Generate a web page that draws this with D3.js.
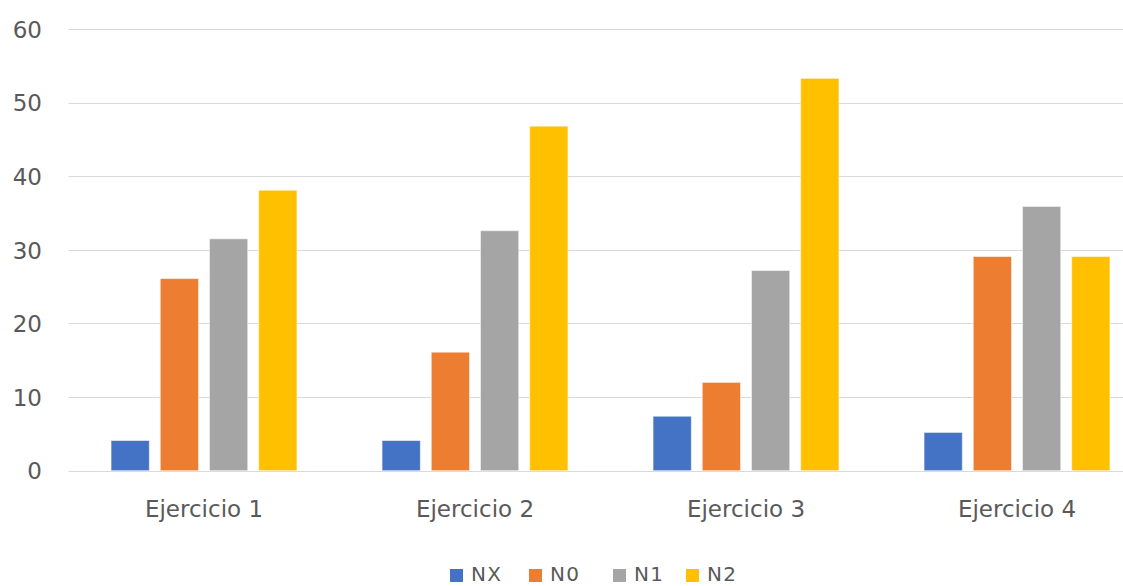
<!DOCTYPE html>
<html>
<head>
<meta charset="utf-8">
<script src="https://cdn.jsdelivr.net/npm/d3@7"></script>
<style>
  html, body { margin: 0; padding: 0; background: #fff; }
  svg { display: block; font-family: "DejaVu Sans", "Open Sans", sans-serif; }
</style>
</head>
<body>
<svg id="chart" width="1123" height="586"></svg>
<script>
// Categories, series and values
const categories = ["Ejercicio 1", "Ejercicio 2", "Ejercicio 3", "Ejercicio 4"];
const seriesNames = ["NX", "N0", "N1", "N2"];
const seriesColors = ["#4472C4", "#ED7D31", "#A5A5A5", "#FFC000"];
const valuesNX = [4.1, 4.1, 7.4, 5.2];
const valuesN0 = [26.1, 16.1, 12.0, 29.1];
const valuesN1 = [31.5, 32.6, 27.2, 35.9];
const valuesN2 = [38.1, 46.8, 53.3, 29.1];
const yTicks = [0, 10, 20, 30, 40, 50, 60];

const seriesValues = [valuesNX, valuesN0, valuesN1, valuesN2];
const rows = categories.map((c, i) => {
  const r = { category: c };
  seriesNames.forEach((s, j) => { r[s] = seriesValues[j][i]; });
  return r;
});

const svg = d3.select("#chart");
const plotLeft = 68.5, plotTop = 29, plotBottom = 470.7;
const bandW = 271;
const plotRight = plotLeft + bandW * categories.length;
const textColor = "#595959";

const x0 = d3.scaleBand().domain(categories).range([plotLeft, plotRight]).padding(0);
const x1 = d3.scaleBand().domain(seriesNames)
  .range([bandW * 0.157, bandW * 0.843]).paddingInner(0.222).paddingOuter(0);
const y = d3.scaleLinear().domain([0, 60]).range([plotBottom, plotTop]);
const color = d3.scaleOrdinal().domain(seriesNames).range(seriesColors);

// Horizontal gridlines
svg.append("g").selectAll("line").data(yTicks).join("line")
  .attr("x1", plotLeft).attr("x2", plotRight)
  .attr("y1", d => Math.round(y(d)) + 0.5).attr("y2", d => Math.round(y(d)) + 0.5)
  .attr("stroke", "#d9d9d9").attr("stroke-width", 1.2);

// Y axis labels
const yAxis = d3.axisLeft(y).tickValues(yTicks).tickSize(0).tickPadding(0);
const gy = svg.append("g").attr("transform", `translate(42,0)`).call(yAxis);
gy.select(".domain").remove();
gy.selectAll("text").attr("fill", textColor).attr("dy", "0.36em")
  .style("font-size", "23px").style("font-family", "'DejaVu Sans', sans-serif");

// Bars
svg.append("g").selectAll("g").data(rows).join("g")
  .attr("transform", d => `translate(${x0(d.category)},0)`)
  .selectAll("rect")
  .data(d => seriesNames.map(s => ({ key: s, value: d[s] })))
  .join("rect")
  .attr("x", d => x1(d.key))
  .attr("width", x1.bandwidth())
  .attr("y", d => y(d.value))
  .attr("height", d => plotBottom - y(d.value))
  .attr("fill", d => color(d.key))
  .attr("stroke", "#ffffff").attr("stroke-opacity", 0.55).attr("stroke-width", 1);

// X axis labels
const xAxis = d3.axisBottom(x0).tickSize(0).tickPadding(0);
const gx = svg.append("g").attr("transform", `translate(0,517)`).call(xAxis);
gx.select(".domain").remove();
gx.selectAll("text").attr("fill", textColor).attr("y", 0).attr("dy", 0)
  .style("font-size", "23px").style("font-family", "'DejaVu Sans', sans-serif");

// Legend
const legendX = [450, 529, 613, 686];
const legend = svg.append("g").selectAll("g").data(seriesNames).join("g")
  .attr("transform", (d, i) => `translate(${legendX[i]},569)`);
legend.append("rect").attr("width", 13).attr("height", 13).attr("fill", d => color(d));
legend.append("text").attr("x", 21).attr("y", 12)
  .attr("fill", textColor).style("font-size", "20px").style("letter-spacing", "1.2px")
  .text(d => d);
</script>
</body>
</html>
